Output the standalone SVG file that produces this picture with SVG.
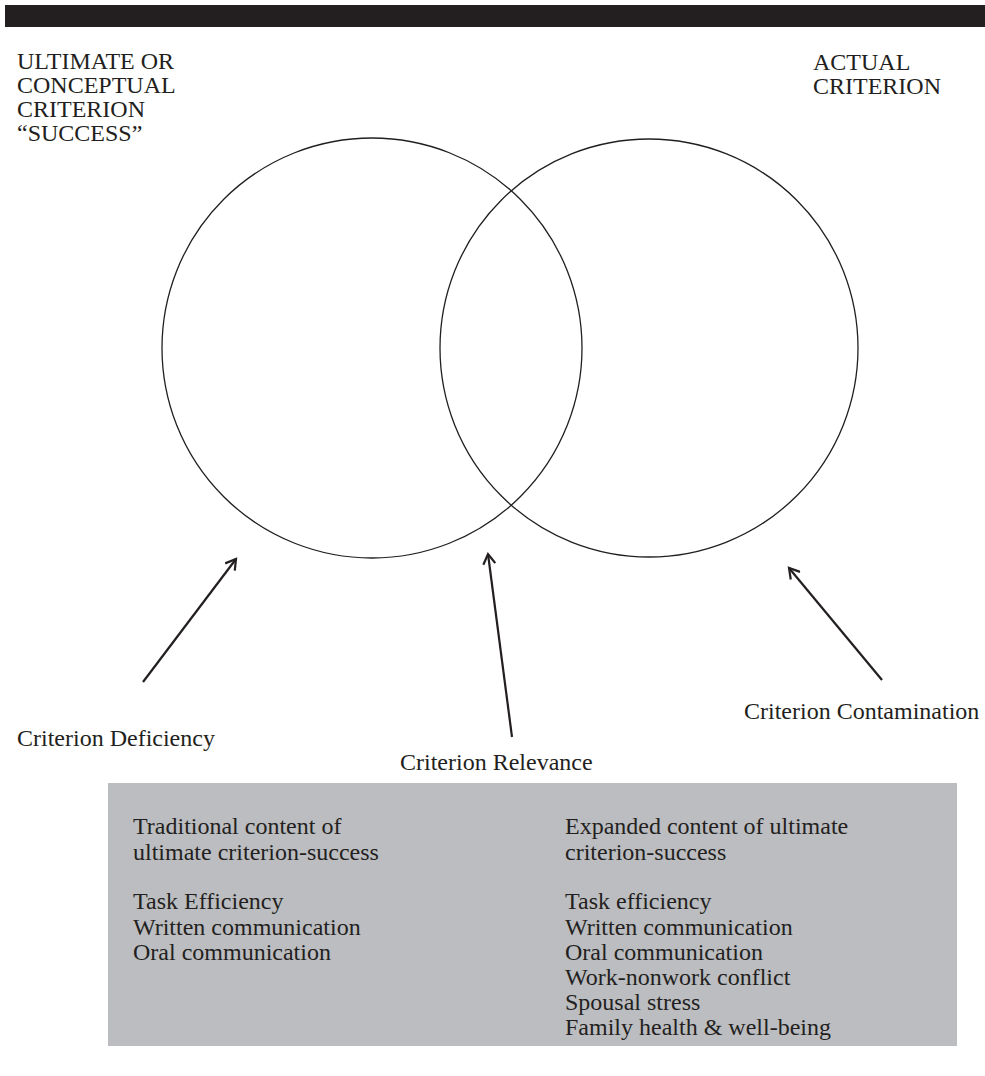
<svg xmlns="http://www.w3.org/2000/svg" width="985" height="1076" viewBox="0 0 985 1076">
<defs>
<style>
.t{font-family:"Liberation Serif","Times New Roman",serif;font-size:24px;fill:#231f20}
.c{fill:none;stroke:#231f20;stroke-width:1.3}
.a{fill:none;stroke:#231f20;stroke-width:2.2}
</style>
<marker id="ah" markerWidth="14" markerHeight="14" refX="11" refY="7" orient="auto" markerUnits="userSpaceOnUse">
<path d="M1,1 L11,7 L1,13" fill="none" stroke="#231f20" stroke-width="2.2"/>
</marker>
</defs>
<rect x="0" y="0" width="985" height="1076" fill="#ffffff"/>
<rect x="5" y="5" width="980" height="22" fill="#231f20"/>
<g id="ultimate-label">
<text class="t" x="17" y="69">ULTIMATE OR</text>
<text class="t" x="17" y="93">CONCEPTUAL</text>
<text class="t" x="17" y="117">CRITERION</text>
<text class="t" x="17" y="141">“SUCCESS”</text>
</g>
<g id="actual-label">
<text class="t" x="813" y="70">ACTUAL</text>
<text class="t" x="813" y="94">CRITERION</text>
</g>
<g id="ultimate-circle"><circle class="c" cx="372" cy="348" r="210"/></g>
<g id="actual-circle"><circle class="c" cx="649" cy="348" r="209"/></g>
<g id="connectors">
<line class="a" x1="143" y1="682" x2="236" y2="559" marker-end="url(#ah)"/>
<line class="a" x1="512" y1="737" x2="488" y2="554" marker-end="url(#ah)"/>
<line class="a" x1="882" y1="680" x2="789" y2="568" marker-end="url(#ah)"/>
</g>
<g id="deficiency"><text class="t" x="17" y="746">Criterion Deficiency</text></g>
<g id="relevance"><text class="t" x="400" y="770">Criterion Relevance</text></g>
<g id="contamination"><text class="t" x="744" y="719">Criterion Contamination</text></g>
<g id="content-box">
<rect x="108" y="783" width="849" height="263" fill="#bcbdc0"/>
<text class="t" x="133" y="834">Traditional content of</text>
<text class="t" x="133" y="860">ultimate criterion-success</text>
<text class="t" x="133" y="909">Task Efficiency</text>
<text class="t" x="133" y="935">Written communication</text>
<text class="t" x="133" y="960">Oral communication</text>
<text class="t" x="565" y="834">Expanded content of ultimate</text>
<text class="t" x="565" y="860">criterion-success</text>
<text class="t" x="565" y="909">Task efficiency</text>
<text class="t" x="565" y="935">Written communication</text>
<text class="t" x="565" y="960">Oral communication</text>
<text class="t" x="565" y="985">Work-nonwork conflict</text>
<text class="t" x="565" y="1010">Spousal stress</text>
<text class="t" x="565" y="1035">Family health &amp; well-being</text>
</g>
</svg>
